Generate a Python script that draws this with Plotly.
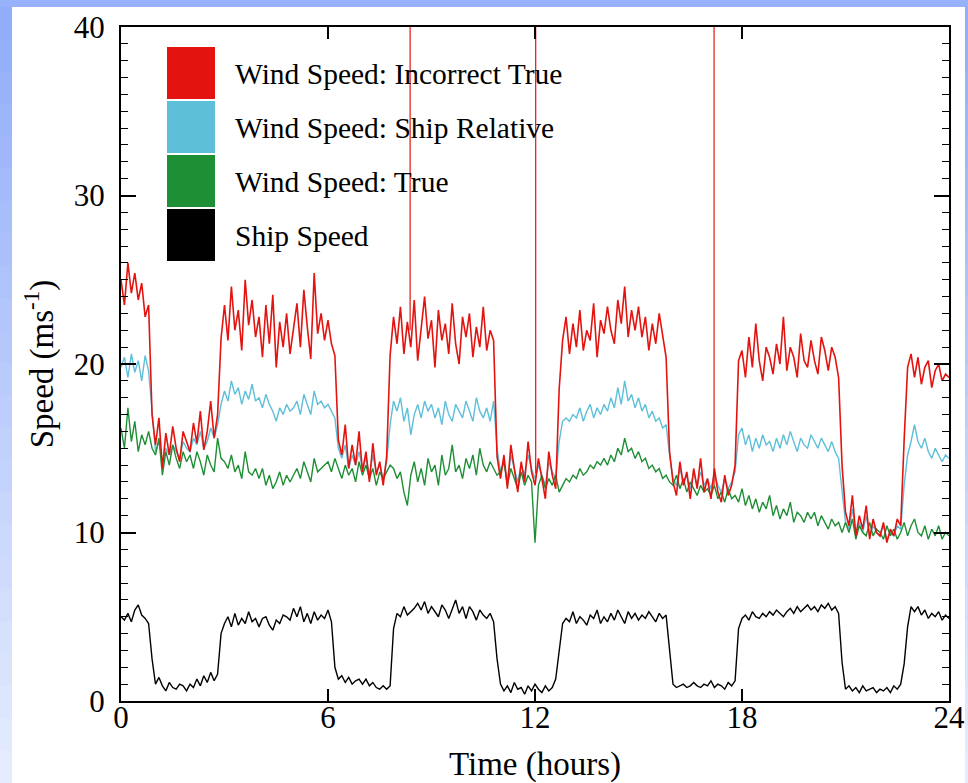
import numpy as np
import plotly.graph_objects as go

# ---------------- data ----------------
t_step = 0.1
hours = np.round(np.arange(241) * t_step, 2)

ship_speed = [
    5.0, 4.8, 5.2, 4.7, 5.4, 5.7, 5.1, 4.9, 4.6, 2.5,
    1.0, 1.4, 0.9, 0.6, 1.1, 0.8, 0.7, 1.0, 0.9, 0.6,
    1.0, 0.8, 1.3, 0.9, 1.5, 1.1, 1.7, 1.2, 1.6, 4.0,
    4.6, 5.0, 4.4, 5.2, 4.5, 4.9, 4.6, 5.3, 4.7, 4.9,
    4.4, 4.9, 5.0, 4.5, 4.2, 4.8, 4.6, 5.1, 5.0, 4.8,
    5.5, 5.0, 5.6, 4.7, 5.2, 4.6, 5.3, 4.8, 5.1, 4.9,
    5.4, 4.7, 2.0, 1.3, 1.5, 1.1, 1.4, 1.0, 1.2, 1.3,
    1.0, 1.3, 0.9, 1.1, 0.8, 0.7, 0.9, 0.7, 0.9, 4.3,
    5.2, 5.0, 5.6, 5.1, 5.3, 5.5, 5.8, 5.4, 5.9, 5.2,
    5.6, 5.3, 5.0, 5.7, 5.4, 4.9, 5.5, 6.0, 5.2, 5.6,
    4.9, 5.6, 5.3, 4.8, 5.4, 5.1, 4.9, 5.2, 4.7, 2.5,
    1.0, 0.6, 0.9, 0.5, 1.1, 0.7, 0.8, 0.4, 0.9, 0.6,
    1.0, 0.7, 0.5, 0.9, 0.6, 0.8, 1.3, 3.0, 4.6, 4.9,
    4.7, 5.3, 4.6, 5.0, 4.8, 4.5, 5.1, 4.9, 5.4, 4.6,
    5.0, 4.7, 5.2, 4.8, 5.4, 5.0, 4.6, 5.3, 4.9, 5.2,
    4.8, 5.1, 4.9, 5.3, 5.0, 4.7, 5.2, 4.9, 5.1, 2.8,
    1.0, 0.8, 0.9, 1.0, 0.8, 0.9, 1.1, 0.9, 0.8, 1.0,
    0.9, 1.2, 0.8, 1.0, 0.9, 0.7, 1.1, 0.9, 1.2, 4.3,
    4.9, 5.1, 4.8, 5.3, 5.0, 4.9, 5.2, 5.0, 5.3, 5.1,
    5.4, 5.2, 5.0, 5.3, 5.5, 5.2, 5.6, 5.3, 5.5, 5.7,
    5.4, 5.6, 5.3, 5.7, 5.5, 5.8, 5.4, 5.6, 5.2, 2.3,
    0.7, 0.9, 0.6, 0.8, 0.5, 0.9, 0.6, 0.7, 0.8, 0.5,
    0.7, 0.6, 0.8, 0.5, 0.9, 0.7, 1.0, 2.2, 4.4, 5.6,
    5.3, 5.6, 5.1, 5.4, 4.9, 5.2, 5.0, 5.3, 4.8, 5.1,
    4.9,
]

wind_incorrect_true = [
    25.0, 23.5, 26.0, 24.2, 25.4, 23.8, 24.8, 22.8, 23.5, 17.0,
    15.2, 16.8, 13.8, 15.9, 14.6, 16.3, 15.0, 14.2, 16.0, 15.4,
    14.8, 16.5, 15.3, 17.2, 14.9, 16.0, 17.8, 15.6, 17.0, 21.5,
    23.5, 21.4, 24.6, 22.0, 23.2, 20.8, 25.0, 22.3, 23.8, 21.6,
    22.8, 20.4, 23.5, 21.2, 24.1, 19.8, 22.5, 21.0, 23.0, 20.6,
    22.0, 23.6, 21.0, 24.4, 22.2, 20.3, 25.4, 21.8, 23.0, 21.4,
    22.6, 21.2, 20.5, 15.5, 14.6, 16.4, 13.8, 15.2, 14.0, 16.0,
    13.6, 14.8, 13.0, 15.3, 13.4, 14.2, 12.8, 14.5, 20.5, 22.8,
    21.2, 23.4, 20.6, 22.5, 21.0, 23.8, 20.2, 22.0, 24.0, 21.5,
    22.6, 19.8, 23.2, 21.4, 22.4, 20.6, 23.6, 21.2, 20.0, 22.8,
    21.6, 23.0, 20.4, 22.2, 21.0, 23.4, 20.8, 22.0, 21.4, 14.5,
    13.2, 14.6, 12.6, 15.2, 13.8, 12.4, 14.2, 13.0, 15.4, 13.6,
    12.8, 14.4, 13.2, 12.0, 14.8, 13.4, 12.6, 18.5, 21.4, 22.8,
    20.6, 22.4, 21.0, 23.2, 20.8, 22.0, 21.4, 23.6, 20.4, 22.6,
    21.8, 23.4, 22.0, 21.2, 23.8, 22.4, 24.6, 21.6, 23.2, 22.0,
    23.4, 21.6, 22.8, 20.8, 22.4, 21.2, 23.0, 21.6, 20.4, 14.8,
    13.0, 12.2, 14.2, 12.8, 13.6, 12.0, 13.8, 12.6, 14.4, 12.4,
    13.2, 12.0, 13.8, 12.4, 11.8, 13.4, 12.2, 12.8, 14.0, 20.2,
    20.8, 19.2, 21.6, 19.8, 22.4, 20.2, 19.0, 21.0, 20.4, 19.4,
    21.2, 20.0, 22.8, 19.6, 21.0, 20.4, 19.2, 21.8, 20.2, 19.8,
    21.4, 20.2, 19.4, 21.6, 20.8, 19.6, 21.0, 20.4, 19.2, 14.0,
    11.2, 10.4, 12.2, 9.8, 11.0, 10.2, 11.6, 9.6, 10.8, 10.0,
    9.8, 10.6, 9.4, 10.2, 9.8, 10.8, 10.4, 15.5, 19.8, 20.6,
    19.2, 20.4, 18.8, 19.8, 20.2, 18.6, 19.6, 20.0, 19.0, 19.4,
    19.2,
]

wind_ship_relative = [
    19.8, 20.4, 19.2, 20.6, 19.5, 20.2, 19.0, 20.5, 19.6, 17.0,
    14.8, 15.4, 14.2, 15.0, 14.6, 15.2, 14.8, 14.4, 15.4, 15.0,
    14.8, 15.6, 15.2, 16.0, 15.0, 15.4, 16.2, 15.6, 16.4, 17.6,
    18.4, 17.8, 19.0, 18.2, 18.6, 17.6, 18.4, 17.9, 18.8, 17.8,
    18.0, 17.4, 18.2, 17.6, 17.2, 16.6, 17.4, 17.0, 17.6, 17.2,
    17.4, 17.8, 17.0, 18.2, 17.6, 17.0, 18.4, 17.6, 17.8, 17.4,
    17.6, 17.2, 16.8, 15.0, 14.4, 15.2, 13.8, 14.6, 14.0, 14.8,
    13.8, 14.4, 13.4, 14.6, 13.6, 14.0, 13.2, 14.2, 16.4, 17.8,
    17.2, 18.0, 16.6, 17.4, 15.8, 17.0, 17.6, 16.8, 17.8, 17.2,
    17.6, 16.8, 17.4, 16.4, 17.8, 17.0, 16.6, 17.6, 17.2, 16.8,
    17.8, 17.2, 16.6, 18.0, 17.2, 16.8, 17.4, 16.6, 17.8, 15.0,
    13.6, 14.2, 13.0, 14.6, 13.8, 13.0, 14.0, 13.4, 14.6, 13.8,
    13.2, 14.0, 13.4, 12.8, 14.2, 13.6, 13.2, 15.4, 16.6, 16.8,
    16.6, 17.0, 16.8, 17.4, 16.6, 17.2, 17.6, 16.8, 17.4, 17.0,
    17.6, 17.2, 18.0, 17.4, 18.6, 17.6, 19.0, 17.8, 18.2, 17.4,
    18.0, 17.2, 17.6, 16.8, 17.2, 16.6, 16.8, 16.2, 16.4, 14.6,
    13.2, 12.8, 13.8, 13.0, 13.4, 12.6, 13.6, 12.8, 13.6, 12.8,
    13.2, 12.6, 13.4, 12.8, 12.4, 13.2, 12.6, 13.0, 13.6, 15.8,
    16.2, 15.2, 15.8, 14.8, 15.6, 15.0, 15.8, 15.2, 15.4, 14.8,
    15.6, 15.0, 15.8, 15.2, 16.0, 15.4, 14.8, 15.6, 15.2, 15.0,
    15.8, 15.4, 15.0, 15.6, 15.2, 14.8, 15.4, 14.8, 14.4, 12.4,
    10.6, 10.2, 11.4, 9.8, 10.6, 10.0, 11.0, 9.8, 10.4, 10.0,
    9.8, 10.4, 9.6, 10.0, 9.8, 10.4, 10.2, 12.8, 14.6, 15.4,
    16.4, 15.4, 15.0, 15.6, 14.8, 14.4, 15.0, 14.6, 14.2, 14.6,
    14.4,
]

wind_true = [
    16.2, 15.0, 17.4, 15.4, 16.6, 14.8, 15.8, 15.2, 16.0, 15.0,
    14.6, 15.6, 13.4, 14.8, 14.0, 15.2, 14.4, 13.8, 14.8, 14.2,
    14.6, 13.8, 14.8, 14.2, 13.4, 14.6, 14.0, 13.6, 15.6, 14.4,
    14.2, 13.8, 14.6, 13.6, 14.0, 13.2, 14.8, 13.6, 13.4, 13.8,
    13.2, 13.8, 12.8, 13.4, 12.6, 13.0, 13.6, 12.8, 13.4, 13.0,
    13.4, 13.8, 13.2, 14.2, 13.6, 13.0, 14.4, 13.6, 13.8, 14.0,
    14.2, 13.6, 14.4, 13.8, 13.2, 14.0, 13.4, 13.8, 13.0, 14.2,
    13.4, 14.0, 13.2, 13.8, 12.8, 13.6, 13.2, 13.6, 14.0, 13.8,
    13.2, 13.6, 12.4, 11.6, 13.4, 14.2, 13.0, 13.8, 12.8, 14.4,
    13.6, 14.0, 12.8, 14.6, 13.4, 13.8, 15.2, 13.6, 14.0, 13.2,
    14.4, 13.8, 14.6, 13.4, 15.0, 14.0, 13.6, 14.2, 13.8, 13.4,
    13.6, 14.2, 12.8, 13.8, 13.2, 12.6, 13.6, 12.8, 13.4, 13.0,
    9.4, 12.8, 13.4, 12.6, 13.2, 12.8, 13.4, 12.4, 12.8, 13.2,
    13.0, 13.4, 13.2, 13.8, 13.4, 13.6, 14.0, 13.8, 14.2, 14.0,
    14.4, 14.0, 14.6, 14.2, 15.0, 14.6, 15.6, 14.8, 15.0, 14.4,
    14.8, 14.2, 14.4, 13.8, 14.0, 13.6, 13.8, 13.2, 13.4, 13.0,
    12.8, 13.4, 12.6, 13.2, 12.4, 13.0, 12.6, 12.2, 12.8, 12.4,
    12.6, 12.2, 12.8, 12.0, 12.4, 11.8, 12.6, 12.0, 12.2, 11.8,
    12.6, 11.6, 12.2, 11.4, 12.0, 11.2, 11.8, 11.4, 12.2, 11.0,
    11.6, 10.8, 11.4, 11.0, 11.8, 10.6, 11.2, 11.0, 10.6, 11.2,
    10.8, 11.2, 10.4, 11.0, 10.6, 10.2, 10.8, 10.4, 10.6, 10.0,
    10.6, 10.0, 10.8, 9.6, 10.4, 10.0, 9.8, 10.6, 9.8, 10.2,
    10.0, 9.6, 10.4, 9.8, 10.2, 9.6, 10.0, 10.6, 9.8, 10.4,
    10.8, 10.0, 9.8, 10.4, 9.6, 10.2, 9.8, 10.4, 9.6, 10.0,
    9.8,
]

# isolated spikes in the "incorrect true" series (they run off the top)
spike_hours = [8.38, 12.02, 17.19]
spike_base = [22.0, 13.5, 12.8]
spike_top = 45.0

series_names = ["Wind Speed: Incorrect True", "Wind Speed: Ship Relative",
                "Wind Speed: True", "Ship Speed"]
series_colors = ["#e3140f", "#5ebfd9", "#1f8f35", "#000000"]

x_ticks = [0, 6, 12, 18, 24]
y_ticks = [0, 10, 20, 30, 40]

# ---------------- layout geometry ----------------
W, H = 968, 783
ML, MR, MT, MB = 121, 19, 27, 82
PW, PH = W - ML - MR, H - MT - MB


def px2x(px):
    return (px - ML) / PW


def px2y(py):
    return (H - MB - py) / PH


FONT = "Liberation Serif, Times New Roman, serif"

fig = go.Figure()

fig.add_trace(go.Scatter(x=hours, y=ship_speed, mode="lines",
                         line=dict(color=series_colors[3], width=1.4),
                         name=series_names[3], showlegend=False))
fig.add_trace(go.Scatter(x=hours, y=wind_ship_relative, mode="lines",
                         line=dict(color=series_colors[1], width=1.4),
                         name=series_names[1], showlegend=False))
fig.add_trace(go.Scatter(x=hours, y=wind_true, mode="lines",
                         line=dict(color=series_colors[2], width=1.4),
                         name=series_names[2], showlegend=False))
fig.add_trace(go.Scatter(x=hours, y=wind_incorrect_true, mode="lines",
                         line=dict(color=series_colors[0], width=1.6),
                         name=series_names[0], showlegend=False))

sx, sy = [], []
for h_, b_ in zip(spike_hours, spike_base):
    sx += [h_, h_, None]
    sy += [b_, spike_top, None]
fig.add_trace(go.Scatter(x=sx, y=sy, mode="lines", cliponaxis=True,
                         line=dict(color=series_colors[0], width=1.2),
                         showlegend=False, hoverinfo="skip"))

shapes = []
# background: white page with blue frame strips
shapes.append(dict(type="rect", xref="paper", yref="paper", layer="below",
                   x0=px2x(-5), x1=px2x(W + 5), y0=px2y(7), y1=px2y(-5),
                   fillcolor="#97b2fb", line=dict(width=0)))
n_seg = 24
c_top = np.array([146, 174, 251])
c_bot = np.array([229, 236, 253])
for i in range(n_seg):
    f = i / (n_seg - 1)
    c = (c_top * (1 - f) + c_bot * f).astype(int)
    col = "rgb(%d,%d,%d)" % tuple(c)
    ya = 7 + (H - 7) * i / n_seg
    yb = 7 + (H - 7) * (i + 1) / n_seg + 1
    shapes.append(dict(type="rect", xref="paper", yref="paper", layer="below",
                       x0=px2x(-5), x1=px2x(12), y0=px2y(yb), y1=px2y(ya),
                       fillcolor=col, line=dict(width=0)))
    shapes.append(dict(type="rect", xref="paper", yref="paper", layer="below",
                       x0=px2x(965), x1=px2x(W + 5), y0=px2y(yb), y1=px2y(ya),
                       fillcolor=col, line=dict(width=0)))

# legend drawn as large colour blocks + text
annotations = []
row_tops = [47, 101, 155, 209]
for name, col, top in zip(series_names, series_colors, row_tops):
    shapes.append(dict(type="rect", xref="paper", yref="paper", layer="above",
                       x0=px2x(167), x1=px2x(215), y0=px2y(top + 52), y1=px2y(top),
                       fillcolor=col, line=dict(width=0)))
    annotations.append(dict(xref="paper", yref="paper", x=px2x(233), y=px2y(top + 27),
                            xanchor="left", yanchor="middle", showarrow=False,
                            text=name, font=dict(family=FONT, size=29.5, color="black")))

fig.update_layout(
    width=W, height=H,
    margin=dict(l=ML, r=MR, t=MT, b=MB, pad=0, autoexpand=False),
    paper_bgcolor="white", plot_bgcolor="white",
    font=dict(family=FONT, color="black"),
    shapes=shapes, annotations=annotations,
    showlegend=False,
)

fig.update_xaxes(range=[0, 24], tickvals=x_ticks, ticktext=[str(v) for v in x_ticks],
                 automargin=False,
                 ticks="inside", ticklen=12, tickwidth=1.5, tickcolor="black",
                 showline=True, linewidth=2, linecolor="black", mirror="ticks",
                 showgrid=False, zeroline=False,
                 tickfont=dict(family=FONT, size=31, color="black"),
                 ticklabelstandoff=-12,
                 title=dict(text="Time (hours)", font=dict(family=FONT, size=33, color="black"),
                            standoff=28))
fig.update_yaxes(range=[0, 40], tickvals=y_ticks, ticktext=[str(v) for v in y_ticks],
                 automargin=False,
                 ticks="inside", ticklen=15, tickwidth=1.5, tickcolor="black",
                 minor=dict(dtick=1, ticks="inside", ticklen=7, tickwidth=1.2,
                            tickcolor="black", showgrid=False),
                 showline=True, linewidth=2, linecolor="black", mirror="ticks",
                 showgrid=False, zeroline=False,
                 tickfont=dict(family=FONT, size=31, color="black"),
                 ticklabelstandoff=8,
                 title=dict(text="Speed (ms<sup>-1</sup>)",
                            font=dict(family=FONT, size=33, color="black"), standoff=10))

fig.write_html("out.html")
